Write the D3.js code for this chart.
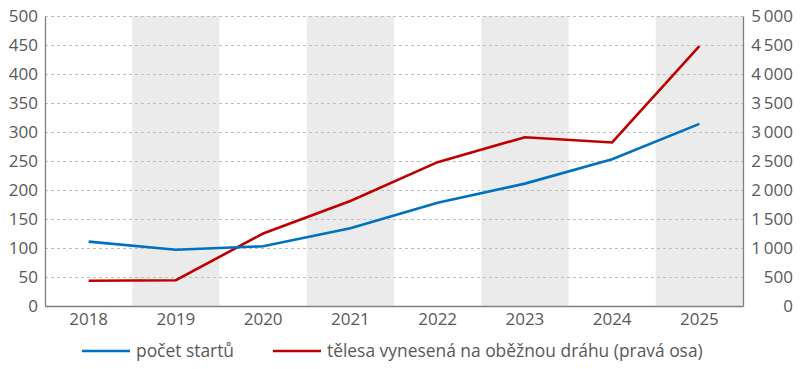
<!DOCTYPE html>
<html><head><meta charset="utf-8">
<script src="https://cdn.jsdelivr.net/npm/d3@7"></script>
<style>body{margin:0;background:#fff}svg text{font-family:"Open Sans","Noto Sans",sans-serif;fill:#595959}</style>
</head><body><svg id="c" width="800" height="369"></svg>
<script>
const years = ["2018","2019","2020","2021","2022","2023","2024","2025"];
const launches = [111, 97, 103, 134, 178, 211, 253, 314];
const objects = [436, 445, 1250, 1810, 2480, 2910, 2820, 4480];
const leftTicks = [0,50,100,150,200,250,300,350,400,450,500];
const rightTicks = [0,500,1000,1500,2000,2500,3000,3500,4000,4500,5000];
const seriesNames = ["počet startů","tělesa vynesená na oběžnou dráhu (pravá osa)"];
const colors = ["#0070c0","#c00000"];

const svg = d3.select("#c");
const L=45, R=743, T=16, B=306;
const x = d3.scaleBand().domain(years).range([L,R]);
const yL = d3.scaleLinear().domain([0,500]).range([B,T]);
const yR = d3.scaleLinear().domain([0,5000]).range([B,T]);
const fmt = v => d3.format(",")(v).replace(/,/g,"\u2009");

svg.append("g").selectAll("rect").data(years.filter((d,i)=>i%2===1)).join("rect")
  .attr("x",d=>x(d)).attr("y",T).attr("width",x.bandwidth()).attr("height",B-T).attr("fill","#ebebeb");
svg.append("g").selectAll("line").data(leftTicks.filter(d=>d>0)).join("line")
  .attr("x1",L).attr("x2",R).attr("y1",d=>yL(d)+0.5).attr("y2",d=>yL(d)+0.5)
  .attr("stroke","#bfbfbf").attr("stroke-dasharray","3,3").attr("stroke-width",1);
const gl = svg.append("g").attr("transform",`translate(${L},0)`).call(d3.axisLeft(yL).tickValues(leftTicks).tickSize(0).tickPadding(7));
const gr = svg.append("g").attr("transform",`translate(${R},0)`).call(d3.axisRight(yR).tickValues(rightTicks).tickSize(0).tickPadding(50).tickFormat(fmt));
gr.selectAll("text").attr("text-anchor","end");
const gb = svg.append("g").attr("transform",`translate(0,${B})`).call(d3.axisBottom(x).tickSize(0).tickPadding(7));
[gl,gr,gb].forEach(g=>{g.selectAll("text").style("font-size","17px").attr("fill","#595959");g.select(".domain").attr("stroke","#7f7f7f").attr("stroke-width",1.3);});

const lineL = d3.line().x((d,i)=>x(years[i])+x.bandwidth()/2).y(d=>yL(d));
const lineR = d3.line().x((d,i)=>x(years[i])+x.bandwidth()/2).y(d=>yR(d));
svg.append("path").datum(objects).attr("d",lineR).attr("fill","none").attr("stroke",colors[1]).attr("stroke-width",2.6);
svg.append("path").datum(launches).attr("d",lineL).attr("fill","none").attr("stroke",colors[0]).attr("stroke-width",2.6);

const leg = [82, 273];
seriesNames.forEach((n,i)=>{
  const g = svg.append("g").attr("transform",`translate(${leg[i]},351)`);
  g.append("line").attr("x1",0).attr("x2",48).attr("stroke",colors[i]).attr("stroke-width",2.6);
  g.append("text").attr("x",54).attr("y",6).style("font-size","17.4px").text(n);
});
</script></body></html>
